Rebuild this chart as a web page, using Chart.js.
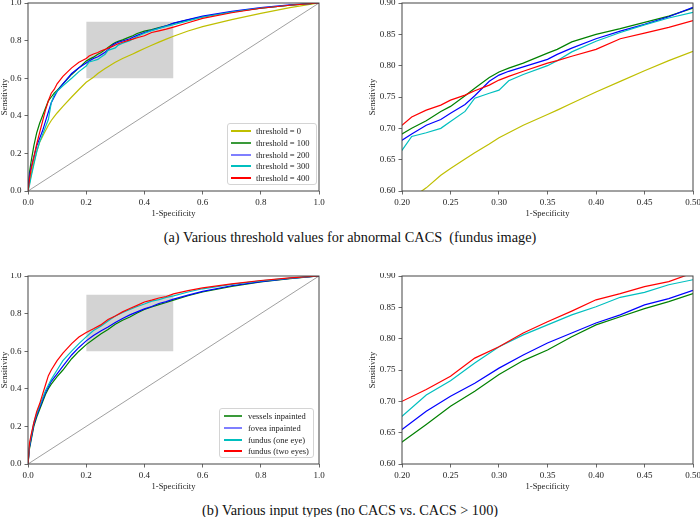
<!DOCTYPE html>
<html>
<head>
<meta charset="utf-8">
<script src="https://cdn.jsdelivr.net/npm/chart.js@4.4.0/dist/chart.umd.min.js"></script>
<style>
  body { margin:0; width:700px; height:517px; background:#fff; position:relative; overflow:hidden;
         font-family:"Liberation Serif","Times New Roman",serif; }
  canvas { position:absolute; }
  .caption { position:absolute; left:0; width:700px; text-align:center; font-size:14.3px; line-height:16px; color:#111; }
  .legend { position:absolute; box-sizing:border-box; border:1px solid #d4d4d4; border-radius:3px;
            background:rgba(255,255,255,0.85); font-size:8.5px; color:#222; }
  .legend .row { position:absolute; left:0; right:0; height:12px; line-height:12px; white-space:nowrap; }
  .legend .sw { position:absolute; top:5px; height:2px; }
  .legend .lb { position:absolute; left:28px; }
</style>
</head>
<body>
<canvas id="aFull" width="330" height="219" style="left:0;top:0;width:330px;height:219px"></canvas>
<canvas id="aZoom" width="350" height="219" style="left:350px;top:0;width:350px;height:219px"></canvas>
<div class="caption" style="top:229px">(a) Various threshold values for abnormal CACS &nbsp;(fundus image)</div>
<canvas id="bFull" width="330" height="219" style="left:0;top:273px;width:330px;height:219px"></canvas>
<canvas id="bZoom" width="350" height="219" style="left:350px;top:273px;width:350px;height:219px"></canvas>
<div class="caption" style="top:502px">(b) Various input types (no CACS vs. CACS &gt; 100)</div>
<div id="aLegend" class="legend" style="left:227px;top:123px;width:90px;height:62px"></div>
<div id="bLegend" class="legend" style="left:219px;top:408px;width:95px;height:50px"></div>
<script>
// ---- panel (a): threshold values ----
const aNames = ['threshold = 0', 'threshold = 100', 'threshold = 200', 'threshold = 300', 'threshold = 400'];
const aFpr  = [0, 0.005, 0.01, 0.02, 0.03, 0.04, 0.05, 0.06, 0.07, 0.08, 0.09, 0.10, 0.12, 0.15, 0.175, 0.20, 0.21, 0.225, 0.24, 0.25, 0.265, 0.275, 0.29, 0.30, 0.31, 0.325, 0.35, 0.36, 0.375, 0.40, 0.425, 0.45, 0.475, 0.50, 0.55, 0.60, 0.70, 0.80, 0.90, 1.0];
const aThr0   = [0, 0.04, 0.08, 0.15, 0.21, 0.26, 0.29, 0.32, 0.35, 0.375, 0.395, 0.415, 0.45, 0.50, 0.540, 0.578, 0.589, 0.605, 0.625, 0.636, 0.651, 0.661, 0.675, 0.685, 0.693, 0.705, 0.722, 0.729, 0.740, 0.758, 0.775, 0.792, 0.808, 0.823, 0.851, 0.874, 0.912, 0.945, 0.975, 1.0];
const aThr100 = [0, 0.10, 0.15, 0.24, 0.31, 0.36, 0.40, 0.44, 0.48, 0.50, 0.52, 0.535, 0.57, 0.62, 0.655, 0.691, 0.700, 0.712, 0.727, 0.735, 0.752, 0.764, 0.781, 0.790, 0.796, 0.804, 0.820, 0.826, 0.838, 0.850, 0.859, 0.869, 0.879, 0.892, 0.910, 0.927, 0.952, 0.972, 0.988, 1.0];
const aThr200 = [0, 0.08, 0.12, 0.18, 0.24, 0.28, 0.32, 0.37, 0.42, 0.47, 0.50, 0.53, 0.57, 0.625, 0.655, 0.681, 0.691, 0.705, 0.714, 0.724, 0.738, 0.752, 0.775, 0.785, 0.791, 0.798, 0.810, 0.818, 0.828, 0.843, 0.855, 0.866, 0.878, 0.893, 0.912, 0.930, 0.955, 0.975, 0.990, 1.0];
const aThr300 = [0, 0.03, 0.07, 0.14, 0.21, 0.26, 0.30, 0.34, 0.38, 0.47, 0.51, 0.53, 0.56, 0.60, 0.635, 0.665, 0.687, 0.693, 0.700, 0.711, 0.727, 0.748, 0.756, 0.761, 0.776, 0.786, 0.800, 0.808, 0.822, 0.839, 0.853, 0.865, 0.876, 0.885, 0.905, 0.925, 0.952, 0.973, 0.988, 1.0];
const aThr400 = [0, 0.06, 0.11, 0.18, 0.25, 0.31, 0.37, 0.43, 0.48, 0.52, 0.54, 0.57, 0.61, 0.655, 0.685, 0.705, 0.718, 0.729, 0.737, 0.745, 0.753, 0.760, 0.769, 0.777, 0.783, 0.791, 0.804, 0.808, 0.815, 0.826, 0.843, 0.852, 0.861, 0.872, 0.895, 0.918, 0.948, 0.972, 0.988, 1.0];

// ---- panel (b): input types ----
const bNames = ['vessels inpainted', 'fovea inpainted', 'fundus (one eye)', 'fundus (two eyes)'];
const bFpr  = [0, 0.005, 0.01, 0.02, 0.03, 0.04, 0.05, 0.06, 0.07, 0.08, 0.10, 0.12, 0.15, 0.175, 0.20, 0.225, 0.25, 0.275, 0.30, 0.325, 0.35, 0.375, 0.40, 0.425, 0.45, 0.475, 0.50, 0.55, 0.60, 0.70, 0.80, 0.90, 1.0];
const bVessels = [0, 0.08, 0.12, 0.20, 0.25, 0.29, 0.33, 0.37, 0.40, 0.425, 0.465, 0.50, 0.56, 0.60, 0.635, 0.663, 0.692, 0.716, 0.743, 0.765, 0.782, 0.803, 0.822, 0.835, 0.848, 0.859, 0.872, 0.895, 0.915, 0.945, 0.968, 0.986, 1.0];
const bFovea   = [0, 0.09, 0.13, 0.21, 0.26, 0.30, 0.34, 0.38, 0.41, 0.44, 0.48, 0.52, 0.58, 0.62, 0.655, 0.684, 0.708, 0.729, 0.753, 0.774, 0.793, 0.809, 0.825, 0.838, 0.854, 0.864, 0.877, 0.898, 0.918, 0.948, 0.970, 0.987, 1.0];
const bOneEye  = [0, 0.10, 0.14, 0.22, 0.27, 0.31, 0.35, 0.39, 0.42, 0.45, 0.50, 0.55, 0.60, 0.64, 0.676, 0.710, 0.733, 0.761, 0.787, 0.806, 0.822, 0.838, 0.851, 0.866, 0.874, 0.886, 0.894, 0.915, 0.932, 0.955, 0.974, 0.989, 1.0];
const bTwoEyes = [0, 0.11, 0.15, 0.22, 0.28, 0.32, 0.37, 0.42, 0.47, 0.50, 0.55, 0.59, 0.64, 0.675, 0.700, 0.719, 0.740, 0.769, 0.787, 0.809, 0.827, 0.844, 0.862, 0.872, 0.883, 0.891, 0.905, 0.922, 0.937, 0.958, 0.976, 0.990, 1.0];

// zoom window and chance line
const boxX = [0.2, 0.5];
const boxY = [0.6, 0.9];
const chanceX = [0, 1];
const chanceY = [0, 1];

// ticks
const fullTicks = [0, 0.2, 0.4, 0.6, 0.8, 1.0];
const zoomXTicks = [0.20, 0.25, 0.30, 0.35, 0.40, 0.45, 0.50];
const zoomYTicks = [0.60, 0.65, 0.70, 0.75, 0.80, 0.85, 0.90];

const aColors = ['#bfbf00', '#008000', '#0000ff', '#00bfbf', '#ff0000'];
const bColors = ['#008000', '#0000ff', '#00bfbf', '#ff0000'];
const legendColors = { '#0000ff': '#7f7fff', '#008000': '#3a9a3a' };

Chart.defaults.font.family = '"Liberation Serif", "Times New Roman", serif';
Chart.defaults.font.size = 9;
Chart.defaults.color = '#222';

const pts = (xs, ys) => xs.map((x, i) => ({ x, y: ys[i] }));

function curveSets(xs, series, colors) {
  return series.map((ys, i) => ({
    data: pts(xs, ys), borderColor: colors[i], borderWidth: 1.2,
    showLine: true, pointRadius: 0, tension: 0, fill: false, order: series.length - i
  }));
}

function extras() {
  return [
    { data: pts(boxX, [boxY[1], boxY[1]]), fill: { value: boxY[0] }, backgroundColor: '#d3d3d3',
      borderWidth: 0, showLine: true, pointRadius: 0, order: 20 },
    { data: pts(chanceX, chanceY), borderColor: '#777', borderWidth: 0.7,
      showLine: true, pointRadius: 0, fill: false, order: 19 }
  ];
}

const frame = {
  id: 'frame',
  afterDatasetsDraw(chart) {
    const { ctx, chartArea: a } = chart;
    ctx.save();
    ctx.strokeStyle = '#444';
    ctx.lineWidth = 1;
    ctx.strokeRect(a.left, a.top, a.right - a.left, a.bottom - a.top);
    ctx.restore();
  }
};

function axis(min, max, tickVals, digits, title, isX, size) {
  return {
    type: 'linear', min, max,
    afterBuildTicks: s => { s.ticks = tickVals.map(v => ({ value: v })); },
    afterFit: s => {
      if (isX) { s.height = size; s.paddingLeft = 0; s.paddingRight = 0; }
      else { s.width = size; s.paddingTop = 0; s.paddingBottom = 0; }
    },
    ticks: { callback: v => v.toFixed(digits), padding: 3, autoSkip: false, maxRotation: 0 },
    grid: { drawOnChartArea: false, drawTicks: true, tickLength: 3.5, color: '#444', lineWidth: 0.8 },
    border: { display: false },
    title: { display: true, text: title, font: { size: 8.5 }, padding: 0 }
  };
}

function makeChart(id, datasets, zoom) {
  return new Chart(document.getElementById(id), {
    type: 'scatter',
    data: { datasets },
    options: {
      responsive: false, animation: false, devicePixelRatio: 1,
      layout: { padding: zoom ? { left: 18, top: 3, right: 7, bottom: 0 } : { left: 0, top: 3, right: 11, bottom: 0 } },
      plugins: { legend: { display: false }, tooltip: { enabled: false } },
      scales: zoom ? {
        x: axis(0.2, 0.5, zoomXTicks, 2, '1-Specificity', true, 28),
        y: axis(0.6, 0.9, zoomYTicks, 2, 'Sensitivity', false, 34)
      } : {
        x: axis(0, 1, fullTicks, 1, '1-Specificity', true, 28),
        y: axis(0, 1, fullTicks, 1, 'Sensitivity', false, 28)
      }
    },
    plugins: [frame]
  });
}

const aSeries = [aThr0, aThr100, aThr200, aThr300, aThr400];
const bSeries = [bVessels, bFovea, bOneEye, bTwoEyes];

makeChart('aFull', extras().concat(curveSets(aFpr, aSeries, aColors)), false);
makeChart('aZoom', curveSets(aFpr, aSeries, aColors), true);
makeChart('bFull', extras().concat(curveSets(bFpr, bSeries, bColors)), false);
makeChart('bZoom', curveSets(bFpr, bSeries, bColors), true);

function buildLegend(id, names, colors, swLeft, swWidth, top0, step) {
  const box = document.getElementById(id);
  names.forEach((n, i) => {
    const row = document.createElement('div');
    row.className = 'row';
    row.style.top = Math.round(top0 + i * step) + 'px';
    const c = legendColors[colors[i]] || colors[i];
    row.innerHTML = `<span class="sw" style="left:${swLeft}px;width:${swWidth}px;background:${c}"></span><span class="lb">${n}</span>`;
    box.appendChild(row);
  });
}
buildLegend('aLegend', aNames, aColors, 3, 20, 1, 11.8);
buildLegend('bLegend', bNames, bColors, 4, 18, 1, 11.8);
</script>
</body>
</html>
